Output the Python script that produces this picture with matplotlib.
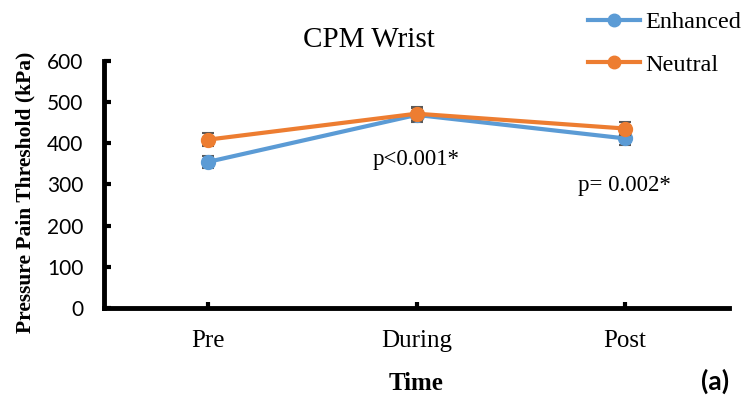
import matplotlib
matplotlib.use("Agg")
import matplotlib.pyplot as plt
from matplotlib.lines import Line2D

# data
times = ["Pre", "During", "Post"]
enhanced = [355, 469, 412]
neutral = [409, 472, 436]
enhanced_err = [14, 17, 15]
neutral_err = [15, 17, 15]
p_labels = ["", "p<0.001*", "p= 0.002*"]

serif = "Liberation Serif"
sans = "Lato"

fig = plt.figure(figsize=(7.46, 3.97), dpi=100)
ax = fig.add_axes([104 / 746, 1 - 308 / 397, (729 - 104) / 746, (308 - 61) / 397])

x = [i + 0.5 for i in range(len(times))]
blue = "#5B9BD5"
orange = "#ED7D31"

ax.errorbar(x, enhanced, yerr=enhanced_err, color=blue, lw=3, marker="o", ms=10,
            ecolor="#595959", elinewidth=1.2, capsize=4, capthick=1.5, zorder=3)
ax.errorbar(x, neutral, yerr=neutral_err, color=orange, lw=3, marker="o", ms=10,
            ecolor="#595959", elinewidth=1.2, capsize=4, capthick=1.5, zorder=4)

ax.set_xlim(0, 3)
ax.set_ylim(0, 600)
ax.set_xticks(x)
ax.set_xticklabels(times, fontfamily=serif, fontsize=18)
ax.set_yticks(range(0, 601, 100))
for lbl in ax.get_yticklabels():
    lbl.set_fontfamily(sans)
    lbl.set_fontsize(15)

for side in ["top", "right"]:
    ax.spines[side].set_visible(False)
for side in ["left", "bottom"]:
    ax.spines[side].set_linewidth(3.5)
ax.tick_params(axis="y", direction="in", length=5, width=3, pad=15)
ax.tick_params(axis="x", direction="in", length=4, width=3, pad=16)

ax.set_ylabel("Pressure Pain Threshold (kPa)", fontfamily=serif, fontweight="bold",
              fontsize=15.5)
ax.yaxis.set_label_coords(-0.11, 0.47)
ax.set_xlabel("Time", fontfamily=serif, fontweight="bold", fontsize=18, labelpad=14)
fig.text(369 / 746, 1 - 40 / 397, "CPM Wrist", ha="center", va="center",
         fontfamily=serif, fontsize=21)
fig.text(715 / 746, 1 - 381 / 397, "(a)", ha="center", va="center",
         fontfamily=sans, fontweight="bold", fontsize=19)

for xi, lab, yv in zip(x, p_labels, [0, 360, 297]):
    if lab:
        ax.text(xi, yv, lab, ha="center", va="center", fontfamily=serif, fontsize=16.5)

handles = [Line2D([], [], color=blue, lw=3, marker="o", ms=9),
           Line2D([], [], color=orange, lw=3, marker="o", ms=9)]
fig.legend(handles, ["Enhanced", "Neutral"], loc="upper left",
           bbox_to_anchor=(588 / 746, 1 - 11 / 397), frameon=False,
           borderpad=0, borderaxespad=0,
           prop={"family": serif, "size": 17.5}, handlelength=2.15,
           labelspacing=0.85, handletextpad=0.2)

fig.savefig("out.png", dpi=100)
